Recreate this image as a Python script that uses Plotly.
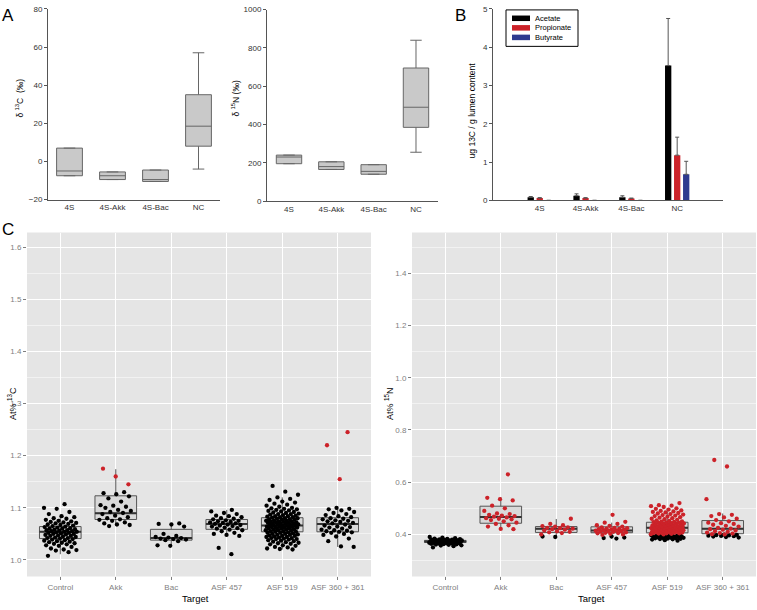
import plotly.graph_objects as go

W, H = 757, 610

# ---------------- Panel A data ----------------
a_groups = ["4S", "4S-Akk", "4S-Bac", "NC"]
a13_q1 = [-7.5, -9.5, -10.5, 8.0]
a13_med = [-5.0, -7.5, -9.5, 18.5]
a13_q3 = [7.0, -5.5, -4.5, 35.0]
a13_lo = [-7.5, -9.5, -10.5, -4.0]
a13_hi = [7.0, -5.5, -4.5, 57.0]

a15_q1 = [195, 165, 140, 385]
a15_med = [230, 180, 155, 490]
a15_q3 = [240, 205, 190, 695]
a15_lo = [195, 165, 140, 255]
a15_hi = [240, 205, 190, 840]

# ---------------- Panel B data ----------------
b_groups = ["4S", "4S-Akk", "4S-Bac", "NC"]
acid_names = ["Acetate", "Propionate", "Butyrate"]
acetate = [0.08, 0.12, 0.08, 3.52]
acetate_err = [0.02, 0.05, 0.04, 1.23]
propionate = [0.06, 0.06, 0.05, 1.18]
propionate_err = [0.01, 0.01, 0.01, 0.47]
butyrate = [0.0, 0.0, 0.0, 0.68]
butyrate_err = [0.0, 0.0, 0.0, 0.34]

# ---------------- Panel C data ----------------
c_targets = ["Control", "Akk", "Bac", "ASF 457", "ASF 519", "ASF 360 + 361"]

c13_q1 = [1.041, 1.0776, 1.038, 1.0587, 1.054, 1.054]
c13_med = [1.054, 1.0896, 1.042, 1.069, 1.066, 1.069]
c13_q3 = [1.064, 1.123, 1.0587, 1.0776, 1.081, 1.081]
c13_lo = [1.011, 1.065, 1.028, 1.045, 1.020, 1.025]
c13_hi = [1.087, 1.174, 1.0707, 1.096, 1.120, 1.099]

c13_black = {
    "Control": [1.008, 1.015, 1.018, 1.019, 1.020, 1.022, 1.025, 1.027, 1.028, 1.030, 1.031, 1.032,
                1.033, 1.034, 1.035, 1.036, 1.037, 1.038, 1.039, 1.040, 1.041, 1.042, 1.042, 1.043,
                1.044, 1.045, 1.046, 1.046, 1.047, 1.048, 1.049, 1.050, 1.050, 1.051, 1.052, 1.052,
                1.053, 1.054, 1.054, 1.055, 1.055, 1.056, 1.057, 1.057, 1.058, 1.059, 1.060, 1.060,
                1.061, 1.062, 1.063, 1.064, 1.065, 1.066, 1.067, 1.068, 1.069, 1.070, 1.071, 1.072,
                1.073, 1.074, 1.075, 1.077, 1.079, 1.080, 1.082, 1.084, 1.088, 1.092, 1.098, 1.100, 1.107],
    "Akk": [1.065, 1.067, 1.068, 1.070, 1.072, 1.075, 1.077, 1.078, 1.080, 1.082, 1.085, 1.088, 1.090,
            1.092, 1.094, 1.096, 1.100, 1.102, 1.104, 1.105, 1.112, 1.118, 1.122, 1.126, 1.128, 1.130],
    "Bac": [1.027, 1.028, 1.036, 1.038, 1.039, 1.040, 1.041, 1.042, 1.043, 1.044, 1.046, 1.050,
            1.064, 1.068, 1.069, 1.070],
    "ASF 457": [1.011, 1.023, 1.046, 1.048, 1.050, 1.052, 1.055, 1.057, 1.058, 1.060, 1.061, 1.062,
                1.064, 1.065, 1.066, 1.067, 1.068, 1.069, 1.070, 1.071, 1.072, 1.073, 1.074, 1.075,
                1.076, 1.078, 1.079, 1.080, 1.082, 1.084, 1.085, 1.088, 1.090, 1.093, 1.096],
    "ASF 519": [1.020, 1.021, 1.022, 1.024, 1.025, 1.027, 1.028, 1.030, 1.031, 1.032, 1.033, 1.034,
                1.035, 1.036, 1.037, 1.038, 1.039, 1.040, 1.040, 1.041, 1.042, 1.042, 1.043, 1.044,
                1.044, 1.045, 1.046, 1.046, 1.047, 1.048, 1.048, 1.049, 1.050, 1.050, 1.051, 1.052,
                1.052, 1.053, 1.054, 1.054, 1.055, 1.055, 1.056, 1.057, 1.057, 1.058, 1.058, 1.059,
                1.060, 1.060, 1.061, 1.061, 1.062, 1.062, 1.063, 1.063, 1.064, 1.064, 1.065, 1.065,
                1.066, 1.066, 1.067, 1.067, 1.068, 1.068, 1.069, 1.069, 1.070, 1.070, 1.071, 1.071,
                1.072, 1.072, 1.073, 1.073, 1.074, 1.074, 1.075, 1.075, 1.076, 1.077, 1.077, 1.078,
                1.078, 1.079, 1.080, 1.080, 1.081, 1.082, 1.082, 1.083, 1.084, 1.084, 1.085, 1.086,
                1.087, 1.088, 1.088, 1.089, 1.090, 1.091, 1.092, 1.093, 1.094, 1.095, 1.096, 1.097,
                1.098, 1.099, 1.100, 1.102, 1.104, 1.106, 1.108, 1.110, 1.112, 1.115, 1.117, 1.120,
                1.125, 1.131, 1.142],
    "ASF 360 + 361": [1.025, 1.026, 1.036, 1.041, 1.045, 1.048, 1.050, 1.052, 1.053, 1.054, 1.055,
                      1.056, 1.057, 1.058, 1.060, 1.062, 1.063, 1.064, 1.066, 1.068, 1.070, 1.071,
                      1.073, 1.074, 1.075, 1.076, 1.078, 1.079, 1.080, 1.082, 1.084, 1.086, 1.088,
                      1.090, 1.092, 1.095, 1.097, 1.098, 1.100],
}
c13_red = {
    "Control": [], "Akk": [1.145, 1.160, 1.175], "Bac": [], "ASF 457": [], "ASF 519": [],
    "ASF 360 + 361": [1.155, 1.220, 1.245],
}

c15_q1 = [0.369, 0.4427, 0.4075, 0.4064, 0.406, 0.4026]
c15_med = [0.373, 0.467, 0.4215, 0.415, 0.425, 0.4215]
c15_q3 = [0.377, 0.508, 0.430, 0.429, 0.4465, 0.453]
c15_lo = [0.360, 0.420, 0.390, 0.384, 0.380, 0.390]
c15_hi = [0.386, 0.543, 0.459, 0.445, 0.500, 0.480]

c15_black = {
    "Control": [0.350, 0.355, 0.357, 0.358, 0.360, 0.361, 0.362, 0.363, 0.364, 0.365, 0.365, 0.366,
                0.366, 0.367, 0.367, 0.368, 0.368, 0.369, 0.369, 0.370, 0.370, 0.370, 0.371, 0.371,
                0.372, 0.372, 0.372, 0.373, 0.373, 0.373, 0.374, 0.374, 0.374, 0.375, 0.375, 0.376,
                0.376, 0.377, 0.377, 0.378, 0.378, 0.379, 0.380, 0.380, 0.381, 0.382, 0.383, 0.384,
                0.386, 0.388, 0.390],
    "Akk": [],
    "Bac": [0.390, 0.392],
    "ASF 457": [0.384, 0.386, 0.388, 0.392],
    "ASF 519": [0.376, 0.378, 0.380, 0.381, 0.382, 0.383, 0.384, 0.385, 0.386, 0.386, 0.387, 0.388,
                0.388, 0.389, 0.390, 0.390, 0.391, 0.392, 0.392, 0.393, 0.394, 0.394, 0.395, 0.396,
                0.396, 0.397, 0.398, 0.399],
    "ASF 360 + 361": [0.388, 0.390, 0.392, 0.393, 0.394, 0.395, 0.396, 0.397, 0.398, 0.399],
}
c15_red = {
    "Control": [],
    "Akk": [0.420, 0.421, 0.430, 0.435, 0.440, 0.445, 0.450, 0.455, 0.458, 0.460, 0.462, 0.465,
            0.468, 0.470, 0.472, 0.475, 0.478, 0.480, 0.490, 0.500, 0.510, 0.530, 0.535, 0.540, 0.630],
    "Bac": [0.400, 0.405, 0.408, 0.410, 0.412, 0.415, 0.418, 0.420, 0.422, 0.424, 0.425, 0.427,
            0.430, 0.432, 0.435, 0.440, 0.460],
    "ASF 457": [0.398, 0.400, 0.402, 0.404, 0.405, 0.406, 0.408, 0.410, 0.411, 0.412, 0.413, 0.414,
                0.415, 0.416, 0.418, 0.419, 0.420, 0.421, 0.422, 0.424, 0.425, 0.427, 0.430, 0.433,
                0.435, 0.440, 0.445, 0.448, 0.475],
    "ASF 519": [0.400, 0.401, 0.402, 0.403, 0.404, 0.404, 0.405, 0.406, 0.406, 0.407, 0.408, 0.408,
                0.409, 0.410, 0.410, 0.411, 0.412, 0.412, 0.413, 0.414, 0.414, 0.415, 0.416, 0.416,
                0.417, 0.418, 0.418, 0.419, 0.420, 0.420, 0.421, 0.422, 0.422, 0.423, 0.424, 0.424,
                0.425, 0.426, 0.426, 0.427, 0.428, 0.428, 0.429, 0.430, 0.430, 0.431, 0.432, 0.433,
                0.434, 0.435, 0.436, 0.437, 0.438, 0.439, 0.440, 0.441, 0.442, 0.443, 0.444, 0.445,
                0.446, 0.447, 0.448, 0.449, 0.450, 0.452, 0.454, 0.456, 0.458, 0.460, 0.462, 0.464,
                0.466, 0.468, 0.470, 0.472, 0.474, 0.476, 0.478, 0.480, 0.482, 0.484, 0.486, 0.488,
                0.490, 0.492, 0.495, 0.498, 0.500, 0.505, 0.508, 0.510, 0.512, 0.520],
    "ASF 360 + 361": [0.400, 0.401, 0.403, 0.405, 0.407, 0.410, 0.412, 0.415, 0.418, 0.420, 0.422,
                      0.425, 0.430, 0.433, 0.437, 0.440, 0.443, 0.445, 0.450, 0.455, 0.460, 0.465,
                      0.470, 0.475, 0.478, 0.535, 0.660, 0.685],
}

# ---------------- helpers ----------------
FONT = "Liberation Sans, Arial, Helvetica, sans-serif"
RED = "#cc2229"
BLUE = "#2e3a8f"
ACID_COLORS = ["#000000", RED, BLUE]


def xd(a, b):
    return [a / W, b / W]


def yd(top, bottom):
    return [1 - bottom / H, 1 - top / H]


def jitter(n, w=0.3, off=0.0):
    # deterministic low-discrepancy horizontal jitter (display only)
    return [((k * 0.6180339887 + off) % 1.0 - 0.5) * 2 * w for k in range(n)]


fig = go.Figure()

# ---------- Panel A boxes ----------
for ax, q1, md, q3, lo, hi in [("", a13_q1, a13_med, a13_q3, a13_lo, a13_hi),
                               ("2", a15_q1, a15_med, a15_q3, a15_lo, a15_hi)]:
    fig.add_trace(go.Box(
        x=list(range(len(a_groups))), q1=q1, median=md, q3=q3, lowerfence=lo, upperfence=hi,
        width=0.6, whiskerwidth=0.45, fillcolor="#c9c9c9", line=dict(color="#666666", width=1),
        boxpoints=False, showlegend=False, hoverinfo="skip",
        xaxis="x" + ax, yaxis="y" + ax))

# ---------- Panel B bars ----------
for name, vals, errs, col in zip(acid_names, [acetate, propionate, butyrate],
                                 [acetate_err, propionate_err, butyrate_err], ACID_COLORS):
    fig.add_trace(go.Bar(
        x=list(range(len(b_groups))), y=vals, name=name, marker=dict(color=col, line=dict(width=0)),
        error_y=dict(type="data", symmetric=False, array=errs, arrayminus=[0] * len(errs),
                     color="#555555", thickness=1, width=2, visible=True),
        showlegend=False, xaxis="x3", yaxis="y3"))

# ---------- Panel C ----------
for ax, q1, md, q3, lo, hi, blk, red in [
        ("4", c13_q1, c13_med, c13_q3, c13_lo, c13_hi, c13_black, c13_red),
        ("5", c15_q1, c15_med, c15_q3, c15_lo, c15_hi, c15_black, c15_red)]:
    n = len(c_targets)
    fig.add_trace(go.Box(
        x=list(range(n)), q1=q1, median=md, q3=q3, lowerfence=lo, upperfence=hi,
        width=0.75, whiskerwidth=0, fillcolor="#d9d9d9", line=dict(color="#555555", width=1),
        boxpoints=False, showlegend=False, hoverinfo="skip",
        xaxis="x" + ax, yaxis="y" + ax))
    mx, my = [], []
    for i, m in enumerate(md):
        mx += [i - 0.375, i + 0.375, None]
        my += [m, m, None]
    fig.add_trace(go.Scatter(x=mx, y=my, mode="lines", line=dict(color="#333333", width=2),
                             showlegend=False, hoverinfo="skip", xaxis="x" + ax, yaxis="y" + ax))
    for col, dd, off in [("#000000", blk, 0.13), (RED, red, 0.71)]:
        px, py = [], []
        for i, t in enumerate(c_targets):
            vals = dd[t]
            js = jitter(len(vals), 0.3, off + 0.17 * i)
            px += [i + j for j in js]
            py += vals
        fig.add_trace(go.Scatter(x=px, y=py, mode="markers",
                                 marker=dict(color=col, size=4.3, line=dict(width=0)),
                                 showlegend=False, hoverinfo="skip",
                                 xaxis="x" + ax, yaxis="y" + ax))

# ---------- axes ----------
a_tickfont = dict(family=FONT, size=8, color="#333333")
common_a_x = dict(showline=True, linecolor="#555555", linewidth=1, ticks="", showgrid=False,
                  zeroline=False, tickfont=a_tickfont, tickvals=[0, 1, 2, 3], ticktext=a_groups)
common_a_y = dict(showline=True, linecolor="#555555", linewidth=1, ticks="outside", ticklen=3,
                  tickcolor="#555555", showgrid=False, zeroline=False, tickfont=a_tickfont)

c_tickfont = dict(family=FONT, size=8, color="#7f7f7f")
common_c_x = dict(showline=False, ticks="outside", ticklen=3, tickcolor="#7f7f7f", showgrid=True,
                  gridcolor="#ffffff", gridwidth=1, zeroline=False, tickfont=c_tickfont,
                  tickvals=list(range(6)), ticktext=c_targets, range=[-0.6, 5.6])
common_c_y = dict(showline=False, ticks="outside", ticklen=3, tickcolor="#7f7f7f", showgrid=True,
                  gridcolor="#ffffff", gridwidth=1, zeroline=False, tickfont=c_tickfont,
                  tickformat=".1f")

fig.update_layout(
    width=W, height=H, margin=dict(l=0, r=0, t=0, b=0),
    paper_bgcolor="white", plot_bgcolor="white", showlegend=False,
    font=dict(family=FONT, color="#000000"),
    barmode="group", bargap=0.41, bargroupgap=0.3,
    xaxis=dict(domain=xd(48, 220), range=[-0.5, 3.5], anchor="y", **common_a_x),
    yaxis=dict(domain=yd(5, 198.5), range=[-20, 80], dtick=20, tick0=0, anchor="x", **common_a_y),
    xaxis2=dict(domain=xd(267, 438), range=[-0.52, 3.52], anchor="y2", **common_a_x),
    yaxis2=dict(domain=yd(5.7, 200), range=[0, 1000], dtick=200, anchor="x2", **common_a_y),
    xaxis3=dict(domain=xd(493, 723), range=[-1.02, 4.0], anchor="y3", **common_a_x),
    yaxis3=dict(domain=yd(5, 199.3), range=[0, 5], dtick=1, anchor="x3", **common_a_y),
    xaxis4=dict(domain=xd(27, 371), anchor="y4", **common_c_x),
    yaxis4=dict(domain=yd(232, 581), range=[0.9684, 1.6278], dtick=0.1, tick0=1.0, anchor="x4",
                minor=dict(dtick=0.05, tick0=1.0, showgrid=True, gridcolor="#f2f2f2", gridwidth=0.6),
                **common_c_y),
    xaxis5=dict(domain=xd(412, 756), anchor="y5", **common_c_x),
    yaxis5=dict(domain=yd(232, 581), range=[0.239, 1.556], dtick=0.2, tick0=0.0, anchor="x5",
                minor=dict(dtick=0.1, tick0=0.0, showgrid=True, gridcolor="#f2f2f2", gridwidth=0.6),
                **common_c_y),
)

# grey ggplot panels
for ax in ["4", "5"]:
    fig.add_shape(type="rect", xref="x%s domain" % ax, yref="y%s domain" % ax, x0=0, x1=1, y0=0, y1=1,
                  fillcolor="#e5e5e5", line=dict(width=0), layer="below")


def ann(text, x, y, size, angle=0, color="#000000", xanchor="center"):
    fig.add_annotation(text=text, x=x / W, y=1 - y / H, xref="paper", yref="paper", showarrow=False,
                       textangle=angle, font=dict(family=FONT, size=size, color=color),
                       xanchor=xanchor, yanchor="middle")


# legend of panel B (drawn as a boxed key)
fig.add_shape(type="rect", xref="paper", yref="paper", x0=506 / W, x1=578 / W,
              y0=1 - 43 / H, y1=1 - 6 / H, line=dict(color="#000000", width=1), fillcolor="white")
for k, (name, col) in enumerate(zip(acid_names, ACID_COLORS)):
    yc = 14.5 + 9.7 * k
    fig.add_shape(type="rect", xref="paper", yref="paper", x0=512 / W, x1=530 / W,
                  y0=1 - (yc + 2.8) / H, y1=1 - (yc - 2.8) / H, line=dict(width=0), fillcolor=col)
    ann(name, 533, yc, 7.5, xanchor="left")

ann("A", 8, 12, 17)
ann("B", 460, 12, 17)
ann("C", 8, 229, 17)
ann("δ <sup>13</sup>C  (‰)", 20, 96, 8.5, -90)
ann("δ <sup>15</sup>N (‰)", 236, 96, 8.5, -90)
ann("ug 13C / g lumen content", 472, 108, 8.5, -90)
ann("At% <sup>13</sup>C", 12, 406, 9, -90)
ann("At% <sup>15</sup>N", 389, 406, 9, -90)
ann("Target", 195, 603, 9.5)
ann("Target", 591, 603, 9.5)

fig.write_html("out.html", config={"displayModeBar": False},
               post_script="document.body.style.margin='0';document.body.style.overflow='hidden';"
                           "document.documentElement.style.overflow='hidden';")
